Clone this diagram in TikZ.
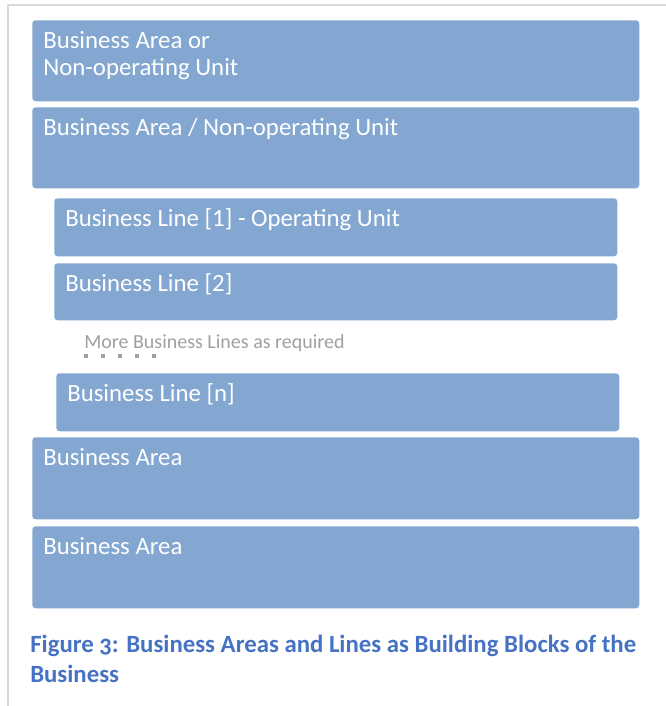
\documentclass[tikz,border=0pt]{standalone}
\usepackage{fontspec}
\setmainfont{Carlito}
\newfontfamily\capfont[Numbers=OldStyle]{Carlito}
\definecolor{boxblue}{RGB}{131,167,208}
\definecolor{capblue}{RGB}{70,114,196}
\definecolor{framegray}{RGB}{217,217,217}
\definecolor{notegray}{RGB}{160,160,160}
\tikzset{
  blk/.style={draw=none, fill=boxblue, rounded corners=2.5pt, inner sep=0pt, anchor=north west},
  blktext/.style={text=white, font=\fontsize{18.6}{20.25}\selectfont, anchor=base west, inner sep=0pt, align=left},
  note/.style={text=notegray, font=\fontsize{15}{18}\selectfont, anchor=base west, inner sep=0pt},
  dotsq/.style={fill=notegray, draw=none, minimum size=3.6pt, inner sep=0pt},
  captext/.style={text=capblue, font=\capfont\bfseries\fontsize{18.6}{22.5}\selectfont, anchor=base west, inner sep=0pt, align=left},
  frameline/.style={draw=framegray, line width=1.6pt}
}
\begin{document}
\begin{tikzpicture}[x=0.75pt,y=-0.75pt]
\useasboundingbox (0,0) rectangle (666,706);
% frame
\coordinate (fr1) at (8,706);
\coordinate (fr2) at (8,5);
\coordinate (fr3) at (666,5);
\draw[frameline] (fr1) -- (fr2) -- (fr3);
% boxes
\node[blk, minimum width=607*0.75pt, minimum height=81*0.75pt] (b1) at (32,20) {};
\node[blk, minimum width=607*0.75pt, minimum height=81*0.75pt] (b2) at (32,107) {};
\node[blk, minimum width=563*0.75pt, minimum height=58*0.75pt] (b3) at (54,198) {};
\node[blk, minimum width=563*0.75pt, minimum height=57*0.75pt] (b4) at (54,263) {};
\node[blk, minimum width=563*0.75pt, minimum height=58*0.75pt] (b5) at (56,373) {};
\node[blk, minimum width=607*0.75pt, minimum height=82*0.75pt] (b6) at (32,437) {};
\node[blk, minimum width=607*0.75pt, minimum height=82*0.75pt] (b7) at (32,526) {};
% texts (multi-line nodes: base = last line)
\node[blktext] (t1) at (43,75.5) {Business Area or\\Non-operating Unit};
\node[blktext] (t2) at (43,135.5) {Business Area / Non-operating Unit};
\node[blktext] (t3) at (65,226.5) {Business Line [1] - Operating Unit};
\node[blktext] (t4) at (65,291.5) {Business Line [2]};
\node[blktext] (t5) at (67,401.5) {Business Line [n]};
\node[blktext] (t6) at (43,465.5) {Business Area};
\node[blktext] (t7) at (43,554.5) {Business Area};
% note
\node[note] (n1) at (84,348) {More Business Lines as required};
\foreach \i in {0,...,4} {
  \node[dotsq] (d\i) at (86+17*\i,356) {};
}
% caption
\node[captext] (cap) at (30,682) {Figure 3: Business Areas and Lines as Building Blocks of the\\Business};
\end{tikzpicture}
\end{document}
